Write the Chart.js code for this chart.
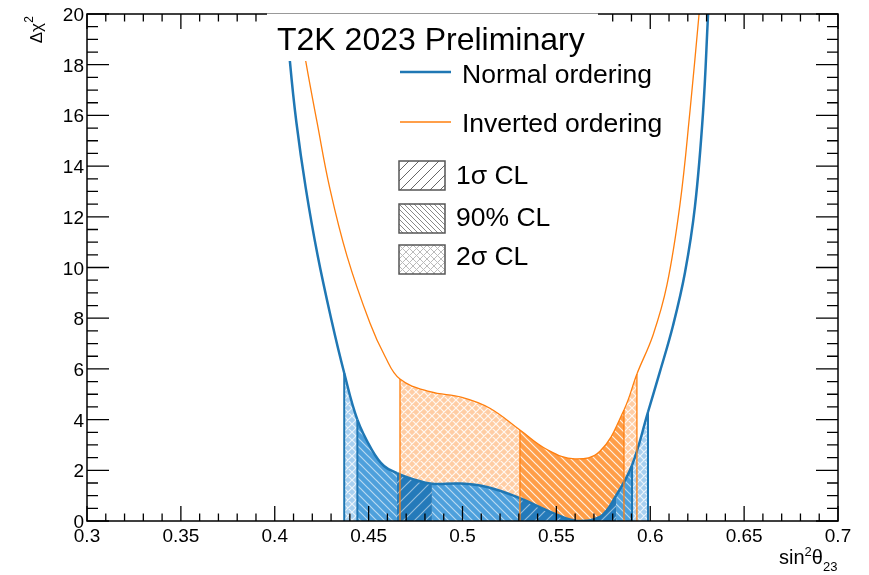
<!DOCTYPE html>
<html>
<head>
<meta charset="utf-8">
<script src="https://cdn.jsdelivr.net/npm/chart.js@4.4.0/dist/chart.umd.min.js"></script>
<style>
  html, body { margin: 0; padding: 0; background: #fff; }
  canvas { display: block; }
</style>
</head>
<body>
<canvas id="chi2Chart" width="869" height="575"></canvas>
<script>
// delta chi2 profiles vs sin^2(theta23)
const noX = [0.4048, 0.4062, 0.4081, 0.4115, 0.4165, 0.4228, 0.4302, 0.4370, 0.4440, 0.4518, 0.4582, 0.4651, 0.4724, 0.4837, 0.4981, 0.5130, 0.5306, 0.5480, 0.5610, 0.5732, 0.5818, 0.5903, 0.5988, 0.6052, 0.6121, 0.6185, 0.6238, 0.6281, 0.6308, 0.6325];
const noDchi2 = [22.1, 20.0, 18.11, 15.74, 13.14, 10.49, 7.93, 5.84, 4.0, 2.8, 2.17, 1.89, 1.68, 1.47, 1.48, 1.34, 0.9, 0.32, 0.0, 0.16, 1.0, 2.2, 4.3, 5.9, 7.7, 9.8, 12.4, 16.1, 20.0, 22.5];
const ioX = [0.4100, 0.4124, 0.4166, 0.4225, 0.4294, 0.4385, 0.4507, 0.4587, 0.4667, 0.4827, 0.4997, 0.5146, 0.5306, 0.5455, 0.5599, 0.5732, 0.5860, 0.5929, 0.6015, 0.6089, 0.6158, 0.6212, 0.6260, 0.6280];
const ioDchi2 = [22.0, 20.0, 18.1, 15.74, 13.1, 10.45, 7.81, 6.5, 5.6, 5.1, 4.88, 4.45, 3.59, 2.8, 2.45, 2.75, 4.38, 5.8, 7.34, 9.31, 12.47, 16.2, 20.0, 21.6];

// confidence intervals in sin^2(theta23)
const noSigma1 = [[0.4651, 0.4837], [0.5306, 0.5818]];
const noCL90 = [[0.4440, 0.4651], [0.4837, 0.5306], [0.5818, 0.5903]];
const noSigma2 = [[0.4370, 0.4440], [0.5903, 0.5988]];
const ioCL90 = [[0.5306, 0.5860]];
const ioSigma2 = [[0.4667, 0.5306], [0.5860, 0.5929]];

const xTicks = [0.3, 0.35, 0.4, 0.45, 0.5, 0.55, 0.6, 0.65, 0.7];
const yTicks = [0, 2, 4, 6, 8, 10, 12, 14, 16, 18, 20];
const seriesNames = ['Normal ordering', 'Inverted ordering'];
const clNames = ['1σ CL', '90% CL', '2σ CL'];
const titleText = 'T2K 2023 Preliminary';

const BLUE = '#1f77b4';
const ORANGE = '#ff7f0e';
const FONT = '"Liberation Sans", Arial, Helvetica, sans-serif';

// hatch patterns
function hatch(bg, kind, step, lineColor, lw) {
    const c = document.createElement('canvas');
    c.width = step; c.height = step;
    const g = c.getContext('2d');
    if (bg) { g.fillStyle = bg; g.fillRect(0, 0, step, step); }
    g.strokeStyle = lineColor;
    g.lineWidth = lw;
    g.beginPath();
    if (kind === '/' || kind === 'x') {
        g.moveTo(-1, step + 1); g.lineTo(step + 1, -1);
        g.moveTo(-1, 1); g.lineTo(1, -1);
        g.moveTo(step - 1, step + 1); g.lineTo(step + 1, step - 1);
    }
    if (kind === '\\' || kind === 'x') {
        g.moveTo(-1, -1); g.lineTo(step + 1, step + 1);
        g.moveTo(step - 1, -1); g.lineTo(step + 1, 1);
        g.moveTo(-1, step - 1); g.lineTo(1, step + 1);
    }
    g.stroke();
    return g.createPattern(c, 'repeat');
}

const patNo1 = hatch('rgb(36,122,186)', '/', 11, 'rgba(255,255,255,0.5)', 1.2);
const patNo90 = hatch('rgb(78,160,220)', '\\', 8, 'rgba(255,255,255,0.6)', 1.2);
const patNo2 = hatch('rgb(168,208,240)', 'x', 8, 'rgba(255,255,255,0.75)', 1.2);
const patIo90 = hatch('rgb(255,158,72)', '\\', 8, 'rgba(255,255,255,0.85)', 1.2);
const patIo2 = hatch('rgb(255,205,164)', 'x', 8, 'rgba(255,255,255,0.85)', 1.2);

const noBands = [].concat(
    noSigma1.map(r => [r[0], r[1], patNo1]),
    noCL90.map(r => [r[0], r[1], patNo90]),
    noSigma2.map(r => [r[0], r[1], patNo2])
);
const ioBands = [].concat(
    ioCL90.map(r => [r[0], r[1], patIo90]),
    ioSigma2.map(r => [r[0], r[1], patIo2])
);

function bandStyle(bands) {
    return function (ctx) {
        const mid = (ctx.p0.parsed.x + ctx.p1.parsed.x) / 2;
        for (const b of bands) {
            if (mid > b[0] && mid < b[1]) return b[2];
        }
        return 'rgba(0,0,0,0)';
    };
}

function toPoints(xs, ys) {
    return xs.map((x, i) => ({ x: x, y: ys[i] }));
}

function valueAt(xs, ys, x) {
    const i = xs.indexOf(x);
    return i >= 0 ? ys[i] : 0;
}

// vertical edges of the shaded intervals
const edgePlugin = {
    id: 'edges',
    afterDatasetsDraw(chart) {
        const ctx = chart.ctx;
        const xs = chart.scales.x, ys = chart.scales.y;
        function edges(list, xsArr, yArr, color, lw) {
            ctx.save();
            ctx.strokeStyle = color;
            ctx.lineWidth = lw;
            const seen = {};
            list.forEach(r => r.forEach(v => {
                if (seen[v]) return;
                seen[v] = true;
                const px = xs.getPixelForValue(v);
                ctx.beginPath();
                ctx.moveTo(px, ys.getPixelForValue(0));
                ctx.lineTo(px, ys.getPixelForValue(valueAt(xsArr, yArr, v)));
                ctx.stroke();
            }));
            ctx.restore();
        }
        edges(noSigma2, noX, noDchi2, BLUE, 2);
        edges(ioSigma2.concat(ioCL90), ioX, ioDchi2, ORANGE, 1.3);
    }
};

// ROOT-like frame, ticks, labels, title and legend
const framePlugin = {
    id: 'frame',
    afterDraw(chart) {
        const ctx = chart.ctx;
        const a = chart.chartArea;
        const xs = chart.scales.x, ys = chart.scales.y;
        ctx.save();
        ctx.strokeStyle = '#000';
        ctx.lineWidth = 1.5;
        ctx.strokeRect(a.left, a.top, a.right - a.left, a.bottom - a.top);

        ctx.lineWidth = 1.3;
        ctx.beginPath();
        for (let i = 0; i <= 40; i++) {
            const v = 0.3 + i * 0.01;
            const px = xs.getPixelForValue(v);
            const len = (i % 5 === 0) ? 15 : 7.5;
            ctx.moveTo(px, a.bottom); ctx.lineTo(px, a.bottom - len);
            ctx.moveTo(px, a.top); ctx.lineTo(px, a.top + len);
        }
        for (let i = 0; i <= 40; i++) {
            const v = i * 0.5;
            const py = ys.getPixelForValue(v);
            const len = (i % 4 === 0) ? 22 : 11;
            ctx.moveTo(a.left, py); ctx.lineTo(a.left + len, py);
            ctx.moveTo(a.right, py); ctx.lineTo(a.right - len, py);
        }
        ctx.stroke();

        ctx.fillStyle = '#000';
        ctx.font = '19px ' + FONT;
        ctx.textAlign = 'center';
        ctx.textBaseline = 'alphabetic';
        xTicks.forEach(v => ctx.fillText(String(v), xs.getPixelForValue(v), 542));
        ctx.textAlign = 'right';
        yTicks.forEach(v => ctx.fillText(String(v), 84, ys.getPixelForValue(v) + 7));

        // x title: sin^2 theta_23
        ctx.textAlign = 'left';
        let x = 779;
        ctx.font = '20px ' + FONT;
        ctx.fillText('sin', x, 564); x += ctx.measureText('sin').width;
        ctx.font = '13px ' + FONT;
        ctx.fillText('2', x, 556); x += ctx.measureText('2').width;
        ctx.font = '20px ' + FONT;
        ctx.fillText('θ', x, 564); x += ctx.measureText('θ').width;
        ctx.font = '13px ' + FONT;
        ctx.fillText('23', x, 571);

        // y title: delta chi^2
        ctx.save();
        ctx.translate(42, 16);
        ctx.rotate(-Math.PI / 2);
        ctx.textAlign = 'right';
        ctx.font = '12px ' + FONT;
        ctx.fillText('2', 0, -9);
        ctx.font = '17px ' + FONT;
        ctx.fillText('Δχ', -7, 0);
        ctx.restore();

        // title box
        ctx.fillStyle = '#fff';
        ctx.fillRect(267, 12, 331, 49);
        ctx.strokeStyle = '#999';
        ctx.lineWidth = 1;
        ctx.beginPath();
        ctx.moveTo(267, 13.5); ctx.lineTo(598, 13.5);
        ctx.stroke();
        ctx.fillStyle = '#000';
        ctx.font = '32px ' + FONT;
        ctx.textAlign = 'left';
        ctx.fillText(titleText, 277, 50);

        // legend lines
        ctx.font = '26.5px ' + FONT;
        ctx.strokeStyle = BLUE;
        ctx.lineWidth = 2.5;
        ctx.beginPath(); ctx.moveTo(400, 72); ctx.lineTo(451, 72); ctx.stroke();
        ctx.fillText(seriesNames[0], 462, 83);
        ctx.strokeStyle = ORANGE;
        ctx.lineWidth = 1.3;
        ctx.beginPath(); ctx.moveTo(400, 122); ctx.lineTo(451, 122); ctx.stroke();
        ctx.fillText(seriesNames[1], 462, 132);

        // legend boxes
        const legPats = [
            hatch(null, '/', 10, '#666', 1),
            hatch(null, '\\', 5, '#888', 1),
            hatch(null, 'x', 7, '#bbb', 1)
        ];
        const boxTop = [161, 204, 245];
        const textBase = [184, 226, 265];
        for (let i = 0; i < 3; i++) {
            ctx.fillStyle = legPats[i];
            ctx.fillRect(399, boxTop[i], 46, 29);
            ctx.strokeStyle = '#555';
            ctx.lineWidth = 1.5;
            ctx.strokeRect(399, boxTop[i], 46, 29);
            ctx.fillStyle = '#000';
            ctx.fillText(clNames[i], 456, textBase[i]);
        }
        ctx.restore();
    }
};

const chi2Chart = new Chart(document.getElementById('chi2Chart').getContext('2d'), {
    type: 'line',
    data: {
        datasets: [{
            label: seriesNames[0],
            data: toPoints(noX, noDchi2),
            borderColor: BLUE,
            borderWidth: 2.5,
            pointRadius: 0,
            tension: 0.4,
            fill: 'origin',
            backgroundColor: 'rgba(0,0,0,0)',
            segment: { backgroundColor: bandStyle(noBands) }
        }, {
            label: seriesNames[1],
            data: toPoints(ioX, ioDchi2),
            borderColor: ORANGE,
            borderWidth: 1.3,
            pointRadius: 0,
            tension: 0.4,
            fill: 'origin',
            backgroundColor: 'rgba(0,0,0,0)',
            segment: { backgroundColor: bandStyle(ioBands) }
        }]
    },
    options: {
        responsive: false,
        animation: false,
        devicePixelRatio: 1,
        layout: { padding: { left: 87, right: 31, top: 14, bottom: 54 } },
        scales: {
            x: { type: 'linear', min: 0.3, max: 0.7, display: false },
            y: { type: 'linear', min: 0, max: 20, display: false }
        },
        plugins: {
            legend: { display: false },
            tooltip: { enabled: false }
        }
    },
    plugins: [edgePlugin, framePlugin]
});
</script>
</body>
</html>
